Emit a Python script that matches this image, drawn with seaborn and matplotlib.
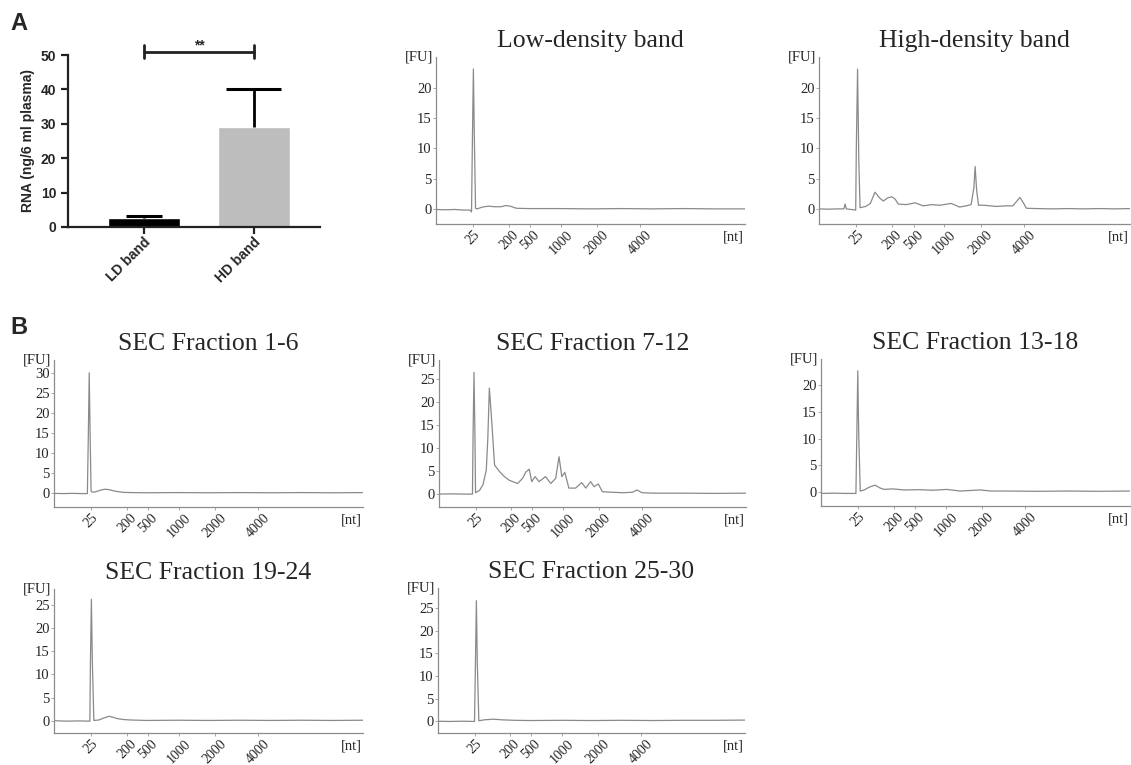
import numpy as np
import pandas as pd
import seaborn as sns
import matplotlib.pyplot as plt

# ---- panel A, bar chart ----
bar_labels = ["LD band", "HD band"]
bar_means = [2.5, 29.2]
bar_err_up = [0.7, 10.8]
bar_colors = ["#000000", "#bdbdbd"]
sig_text = "**"

# ---- electropherograms: x is migration position (0-100 across the run) ----
nt_pos = [12, 23.6, 30.4, 40.3, 52, 66]
nt_labels = ["25", "200", "500", "1000", "2000", "4000"]

ld_x = [0, 3, 6, 9, 11.0, 11.5, 11.8, 12.1, 12.4, 12.8, 13.3, 15, 17, 19, 21, 22.5, 24, 26, 30, 40, 50, 60, 70, 80, 90, 100]
ld_y = [-0.1, -0.15, -0.1, -0.2, -0.2, -0.5, 12, 23.1, 12, 0.1, 0.0, 0.3, 0.45, 0.35, 0.35, 0.55, 0.45, 0.1, 0.05, 0.05, 0.0, 0.05, 0.0, 0.05, 0.0, 0.0]

hd_x = [0, 3, 6, 8.0, 8.4, 8.8, 11.8, 12.0, 12.4, 12.8, 13.2, 15, 16.5, 18.0, 19.5, 20.7, 22, 23.4, 24.5, 25.5,
        28, 30.9, 33.5, 36.3, 38.9, 42.5, 45.2, 47.3, 48.9, 49.8, 50.2, 50.7, 51.3, 53, 57, 60, 62.3,
        63.5, 64.6, 65.7, 66.7, 70, 75, 80, 85, 90, 95, 100]
hd_y = [0, -0.05, 0, 0, 0.8, 0, -0.2, 10, 23.1, 8, 0.2, 0.4, 0.9, 2.75, 1.8, 1.3, 1.8, 2.0, 1.6, 0.8,
        0.7, 1.0, 0.5, 0.7, 0.6, 0.9, 0.3, 0.5, 0.7, 3.5, 7.0, 3.0, 0.6, 0.6, 0.4, 0.5, 0.5,
        1.2, 1.9, 1.0, 0.1, 0.05, 0, 0.05, 0, 0.05, 0, 0.05]

s1_x = [0, 3, 6, 9, 10.8, 11.1, 11.4, 11.7, 12.0, 12.4, 13.5, 15, 16.5, 18, 19.5, 21, 22.5, 25, 30, 40, 50, 60, 70, 80, 90, 100]
s1_y = [-0.1, -0.15, -0.1, -0.15, -0.15, 14, 30, 14, 0.5, 0.2, 0.3, 0.7, 0.95, 0.8, 0.5, 0.3, 0.15, 0.1, 0.05, 0.1, 0.05, 0.1, 0.05, 0.1, 0.05, 0.1]

s2_x = [0, 4, 8, 10.9, 11.1, 11.4, 11.7, 11.9, 13.2, 14.3, 15.4, 15.9, 16.4, 17.0, 18.1, 19.7, 21.3, 22.9,
        25.6, 27.2, 28.3, 29.4, 30.2, 31.3, 32.6, 34.7, 36.4, 38.0, 39.1, 40.0, 41.0, 42.3, 44.5, 46.5,
        47.8, 49.4, 50.5, 51.9, 53.2, 59.7, 63.0, 64.5, 66.1, 70, 80, 90, 100]
s2_y = [0, 0.05, 0, 0, 13, 26.4, 13, 0.3, 0.8, 2.0, 5.2, 12, 23.0, 17.5, 6.3, 4.9, 3.8, 3.0,
        2.3, 3.4, 4.8, 5.4, 2.7, 3.8, 2.7, 3.8, 2.3, 3.4, 8.1, 3.8, 4.7, 1.3, 1.3, 2.5,
        1.3, 2.7, 1.6, 2.2, 0.5, 0.3, 0.4, 0.9, 0.3, 0.2, 0.2, 0.15, 0.2]

s3_x = [0, 4, 8, 11.3, 11.6, 11.9, 12.2, 12.7, 14, 15.5, 17.5, 19, 20.4, 23.1, 27, 32, 36, 40.7, 45, 51.5, 55, 60, 70, 80, 90, 100]
s3_y = [-0.25, -0.2, -0.25, -0.25, 11, 22.7, 11, 0.2, 0.4, 0.9, 1.3, 0.8, 0.5, 0.6, 0.4, 0.45, 0.35, 0.5, 0.2, 0.4, 0.2, 0.2, 0.15, 0.2, 0.15, 0.2]

s4_x = [0, 4, 8, 11.6, 11.8, 12.1, 12.4, 12.9, 14.5, 16, 17.9, 19, 20.5, 22.5, 24.8, 30, 40, 50, 60, 70, 80, 90, 100]
s4_y = [0.05, -0.05, 0, -0.05, 13, 26.2, 13, 0.1, 0.2, 0.6, 1.0, 0.8, 0.5, 0.3, 0.2, 0.1, 0.15, 0.1, 0.15, 0.1, 0.15, 0.1, 0.15]

s5_x = [0, 4, 8, 11.9, 12.2, 12.5, 12.8, 13.3, 15, 18, 21, 25, 30, 40, 50, 60, 70, 80, 90, 100]
s5_y = [0, -0.05, 0, -0.05, 13, 26.6, 13, 0.1, 0.3, 0.45, 0.3, 0.2, 0.15, 0.2, 0.15, 0.2, 0.15, 0.2, 0.2, 0.25]

sns.set_style("ticks")
plt.rcParams['font.family'] = ['Liberation Serif', 'DejaVu Serif']
SANS = ['Liberation Sans', 'DejaVu Sans']

W, H = 1131, 765
fig = plt.figure(figsize=(W / 100, H / 100), dpi=100)


def rect(l, r, t, b):
    return [l / W, 1 - b / H, (r - l) / W, (b - t) / H]


# ---------------- bar chart ----------------
ax = fig.add_axes(rect(68, 320, 55, 227))
sns.barplot(x=bar_labels, y=bar_means, hue=bar_labels, palette=bar_colors,
            saturation=1, width=0.66, legend=False, ax=ax)
cap_half = [0.165, 0.25]
# upper-only error bars, GraphPad style
for i, (m, e) in enumerate(zip(bar_means, bar_err_up)):
    ax.vlines(i, m, m + e, color="black", lw=2, zorder=5)
    ax.hlines(m + e, i - cap_half[i], i + cap_half[i], color="black", lw=2.2, zorder=5)
ax.set_xlim(-0.69, 1.6)
ax.set_ylim(0, 50)
ax.set_yticks([0, 10, 20, 30, 40, 50])
sns.despine(ax=ax)
for s in ["left", "bottom"]:
    ax.spines[s].set_linewidth(1.6)
    ax.spines[s].set_color("#222222")
ax.tick_params(width=1.6, length=5, color="#222222", labelsize=10)
ax.tick_params(axis="x", pad=1)
ax.set_ylabel("RNA (ng/6 ml plasma)", fontsize=10, fontweight="bold", family=SANS)
for lab in ax.get_yticklabels():
    lab.set_family(SANS)
    lab.set_fontweight("bold")
ax.set_xticks([0, 1])
ax.set_xticklabels(bar_labels, rotation=45, ha="right", rotation_mode="anchor",
                   family=SANS, fontweight="bold", fontsize=10)
ax.plot([0, 1], [51.0, 51.0], color="#222222", lw=2, clip_on=False)
ax.plot([0, 0], [49.0, 53.0], color="#222222", lw=2, clip_on=False)
ax.plot([1, 1], [49.0, 53.0], color="#222222", lw=2, clip_on=False)
ax.text(0.5, 50.6, sig_text, ha="center", va="bottom", fontsize=10, fontweight="bold", family=SANS)
ax.set_xlabel("")

# ---------------- electropherograms ----------------
panels = [
    ("Low-density band", ld_x, ld_y, (436, 745, 57, 224), (-2.5, 25.1), [0, 5, 10, 15, 20]),
    ("High-density band", hd_x, hd_y, (819, 1130, 57, 224), (-2.5, 25.1), [0, 5, 10, 15, 20]),
    ("SEC Fraction 1-6", s1_x, s1_y, (54, 363, 360, 507), (-3.5, 33.2), [0, 5, 10, 15, 20, 25, 30]),
    ("SEC Fraction 7-12", s2_x, s2_y, (439, 746, 360, 507), (-2.8, 29.1), [0, 5, 10, 15, 20, 25]),
    ("SEC Fraction 13-18", s3_x, s3_y, (821, 1130, 359, 506), (-2.6, 24.9), [0, 5, 10, 15, 20]),
    ("SEC Fraction 19-24", s4_x, s4_y, (54, 363, 589, 733), (-2.6, 28.4), [0, 5, 10, 15, 20, 25]),
    ("SEC Fraction 25-30", s5_x, s5_y, (438, 745, 588, 733), (-2.6, 29.4), [0, 5, 10, 15, 20, 25]),
]

for title, xs, ys, r, ylim, yt in panels:
    ax = fig.add_axes(rect(*r))
    df = pd.DataFrame({"pos": xs, "fu": ys})
    sns.lineplot(data=df, x="pos", y="fu", ax=ax, color="#8a8a8a", lw=0.9, sort=False)
    ax.set_xlim(0, 100)
    ax.set_ylim(*ylim)
    ax.set_yticks(yt)
    ax.set_xticks(nt_pos)
    ax.set_xticklabels(nt_labels, rotation=45, fontsize=10)
    ax.tick_params(axis="y", length=2, width=0.6, color="#999999", labelsize=10.5, pad=1)
    ax.tick_params(axis="x", length=2, width=0.6, color="#999999", pad=1)
    ax.set_xlabel("")
    ax.set_ylabel("")
    sns.despine(ax=ax)
    for s in ["left", "bottom"]:
        ax.spines[s].set_color("#8c8c8c")
        ax.spines[s].set_linewidth(0.9)
    ax.set_title(title, fontsize=18.5, pad=7)
    ax.annotate("[FU]", xy=(0, 1), xycoords="axes fraction", xytext=(-2, 0),
                textcoords="offset points", ha="right", va="center", fontsize=10.5)
    ax.annotate("[nt]", xy=(1, 0), xycoords="axes fraction", xytext=(-1, -5),
                textcoords="offset points", ha="right", va="top", fontsize=10.5)

fig.text(10 / W, 1 - 24 / H, "A", fontsize=17, fontweight="bold", family=SANS, va="center")
fig.text(10 / W, 1 - 327 / H, "B", fontsize=17, fontweight="bold", family=SANS, va="center")

fig.savefig("out.png", dpi=100)
